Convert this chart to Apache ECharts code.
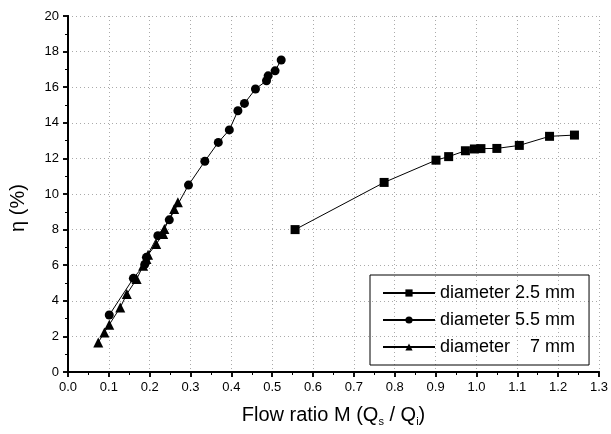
<!DOCTYPE html>
<html>
<head>
<meta charset="utf-8">
<script src="https://cdn.jsdelivr.net/npm/echarts@6/dist/echarts.min.js"></script>
<style>
  html, body { margin: 0; padding: 0; background: #fff; }
  #chart { width: 611px; height: 434px; }
</style>
</head>
<body>
<div id="chart"></div>
<script>
  // 数据
  var seriesNames = ['diameter 2.5 mm', 'diameter 5.5 mm', 'diameter    7 mm'];
  var d25 = [[0.556, 8.0], [0.774, 10.65], [0.901, 11.9], [0.932, 12.1], [0.973, 12.43],
             [0.995, 12.53], [1.011, 12.55], [1.050, 12.56], [1.105, 12.73], [1.179, 13.24], [1.240, 13.31]];
  var d55 = [[0.101, 3.2], [0.160, 5.26], [0.188, 6.05], [0.192, 6.44], [0.220, 7.66], [0.248, 8.55],
             [0.295, 10.5], [0.335, 11.84], [0.368, 12.9], [0.395, 13.6], [0.416, 14.68], [0.432, 15.09],
             [0.459, 15.9], [0.486, 16.36], [0.490, 16.64], [0.507, 16.92], [0.522, 17.53]];
  var d7 = [[0.074, 1.66], [0.089, 2.22], [0.101, 2.66], [0.128, 3.63], [0.144, 4.38], [0.168, 5.22],
            [0.184, 5.97], [0.192, 6.35], [0.196, 6.59], [0.216, 7.19], [0.233, 7.75], [0.236, 8.03],
            [0.260, 9.16], [0.269, 9.53]];
  var xName = 'Flow ratio M (Q{s|s} / Q{s|i})';
  var yName = 'η (%)';

  var font = 'Arial, "Liberation Sans", sans-serif';
  var myChart = echarts.init(document.getElementById('chart'));

  var axisLine = { show: true, lineStyle: { color: '#000', width: 2 } };
  var gridLine = { show: true, lineStyle: { color: '#aaa', type: [1, 3], width: 1 } };

  myChart.setOption({
    animation: false,
    backgroundColor: '#fff',
    grid: { left: 60, right: 12, top: 16, bottom: 62 },
    legend: {
      orient: 'vertical',
      left: 370,
      top: 275,
      padding: [8, 14, 8, 12],
      borderColor: '#000',
      borderWidth: 1,
      itemWidth: 52,
      itemHeight: 9,
      itemGap: 7,
      textStyle: { fontFamily: font, fontSize: 18, color: '#000', lineHeight: 20 },
      data: seriesNames
    },
    xAxis: [
      {
        type: 'value', min: 0, max: 1.3, interval: 0.1,
        name: xName, nameLocation: 'middle', nameGap: 32,
        nameTextStyle: {
          fontFamily: font, fontSize: 20, color: '#000',
          rich: { s: { fontSize: 11, verticalAlign: 'bottom', padding: [12, 0, 0, 0], fontFamily: font } }
        },
        axisLine: axisLine,
        axisTick: { show: true, inside: false, length: 5, lineStyle: { color: '#000', width: 1.5 } },
        minorTick: { show: true, splitNumber: 2, length: 3, lineStyle: { color: '#000', width: 1 } },
        axisLabel: {
          fontFamily: font, fontSize: 13, color: '#000', margin: 9,
          formatter: function (v) { return v.toFixed(1); }
        },
        splitLine: gridLine
      },
      {
        type: 'value', min: 0, max: 1.3, interval: 0.1, position: 'top',
        axisLine: axisLine,
        axisTick: { show: true, inside: true, length: 5, lineStyle: { color: '#000', width: 1.5 } },
        minorTick: { show: true, splitNumber: 2, length: 3, lineStyle: { color: '#000' } },
        axisLabel: { show: false },
        splitLine: { show: false }
      }
    ],
    yAxis: [
      {
        type: 'value', min: 0, max: 20, interval: 2,
        name: yName, nameLocation: 'middle', nameGap: 40,
        nameTextStyle: { fontFamily: font, fontSize: 20, color: '#000', padding: [0, 0, 0, -28] },
        axisLine: axisLine,
        axisTick: { show: true, inside: false, length: 5, lineStyle: { color: '#000', width: 1.5 } },
        minorTick: { show: true, splitNumber: 2, length: 3, lineStyle: { color: '#000' } },
        axisLabel: { fontFamily: font, fontSize: 13, color: '#000', margin: 9 },
        splitLine: gridLine
      },
      {
        type: 'value', min: 0, max: 20, interval: 2, position: 'right',
        axisLine: axisLine,
        axisTick: { show: true, inside: true, length: 5, lineStyle: { color: '#000', width: 1.5 } },
        minorTick: { show: true, splitNumber: 2, length: 3, lineStyle: { color: '#000' } },
        axisLabel: { show: false },
        splitLine: { show: false }
      }
    ],
    series: [
      {
        name: seriesNames[0], type: 'line', data: d25,
        symbol: 'rect', symbolSize: 9,
        itemStyle: { color: '#000' },
        lineStyle: { color: '#000', width: 1 }
      },
      {
        name: seriesNames[1], type: 'line', data: d55,
        symbol: 'circle', symbolSize: 9,
        itemStyle: { color: '#000' },
        lineStyle: { color: '#000', width: 1 }
      },
      {
        name: seriesNames[2], type: 'line', data: d7,
        symbol: 'triangle', symbolSize: 10,
        itemStyle: { color: '#000' },
        lineStyle: { color: '#000', width: 1 }
      }
    ]
  });
</script>
</body>
</html>
